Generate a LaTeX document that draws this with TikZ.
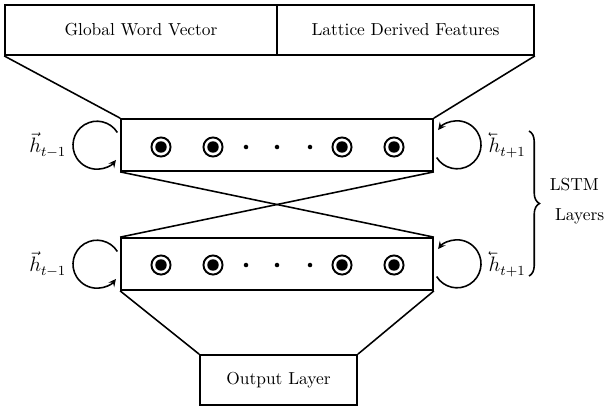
\documentclass[tikz,border=0pt]{standalone}
\usepackage{amsmath}
\usetikzlibrary{positioning}
\usetikzlibrary{decorations.pathreplacing}

\newcommand{\backvec}[1]{\reflectbox{$\vec{\reflectbox{$#1$}}$}}

\tikzset{
	box/.style={draw, line width=1pt, inner sep=0pt},
	unit/.style={circle, draw, line width=1.1pt, minimum size=11pt, inner sep=0pt,
		path picture={\fill (path picture bounding box.center) circle (3.3pt);}},
	link/.style={line width=0.9pt},
}

\begin{document}
\begin{tikzpicture}[x=0.575pt, y=-0.575pt, >=stealth]
	  \useasboundingbox (0,0) rectangle (609,410);
	  % input features
	  \node[box, minimum width=156.4pt, minimum height=28.75pt] (gwv) at (141,30) {Global Word Vector};
	  \node[box, minimum width=147.8pt, minimum height=28.75pt] (ldf) at (405.5,30) {Lattice Derived Features};
	  % the two lstm layers
	  \node[box, minimum width=179.4pt, minimum height=29.9pt] (lstmA) at (277,145) {};
	  \node[box, minimum width=179.4pt, minimum height=29.9pt] (lstmB) at (277,264) {};
	  \node[box, minimum width=90.3pt, minimum height=28.75pt] (out) at (278.5,380) {Output Layer};
	  \foreach \y/\l in {147/A,265/B}
	    {\foreach \x/\k in {161/a,213/b,342/c,394/d}
	      \node[unit] (u\l\k) at (\x,\y) {};
	     \foreach \x in {246,277,310} \fill (\x,\y) circle (1.3pt);
	    }
	  \draw[link] (gwv.south west) -- (lstmA.north west);
	  \draw[link] (ldf.south east) -- (lstmA.north east);
	  \draw[link] (lstmA.south west) -- (lstmB.north east);
	  \draw[link] (lstmA.south east) -- (lstmB.north west);
	  \draw[link] (lstmB.south west) -- (out.north west);
	  \draw[link] (lstmB.south east) -- (out.north east);
	  % recurrent loops
	  \foreach \l in {A,B}
	    {\draw[link,->] ([shift={(-1.6pt,7.2pt)}]lstm\l.west) arc[start angle=32, end angle=322, radius=13.8pt];
	     \draw[link,->] ([shift={(1.6pt,-7.2pt)}]lstm\l.east) arc[start angle=212, end angle=502, radius=13.8pt];
	     \node[left=27.5pt of lstm\l.west] (fw\l) {\large$\vec{h}_{t-1}$};
	     \node[right=28pt of lstm\l.east] (bw\l) {\large$\backvec{h}_{t+1}$};
	    }
	  \coordinate (braceTop) at (529,131);
	  \coordinate (braceBot) at (529,276);
	  \draw[link, decorate, decoration={brace, amplitude=6pt}] (braceTop) -- (braceBot);
	  \node[align=left, inner sep=0pt] (lstmLabel) at (577,201) {LSTM\\[5pt]\hspace*{0.3em}Layers};
	\end{tikzpicture}
\end{document}
